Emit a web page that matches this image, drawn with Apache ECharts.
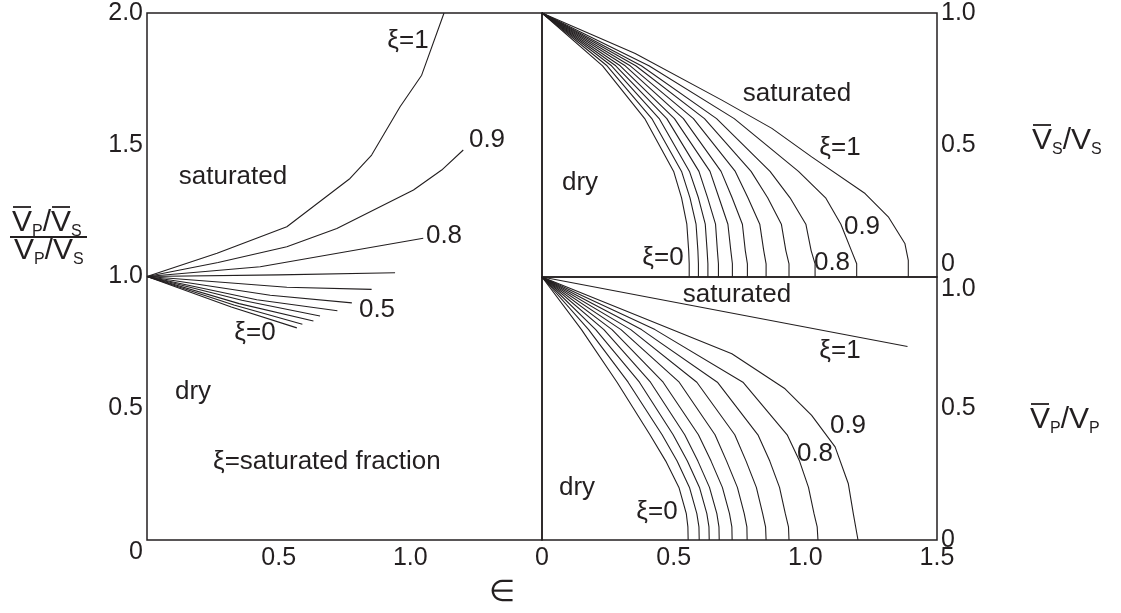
<!DOCTYPE html>
<html>
<head>
<meta charset="utf-8">
<script src="https://cdn.jsdelivr.net/npm/echarts@6/dist/echarts.min.js"></script>
<style>
  html, body { margin: 0; padding: 0; background: #ffffff; }
  #chart { width: 1121px; height: 613px; }
</style>
</head>
<body>
<div id="chart"></div>
<script>
// Saturated fraction ξ of each curve, from dry (0) to fully saturated (1)
const xiValues = [0, 0.1, 0.2, 0.3, 0.4, 0.5, 0.6, 0.7, 0.8, 0.9, 1.0];

// Left panel: (V̄p/V̄s)/(Vp/Vs) against crack density ε
const ratioXi00 = [[0, 1], [0.32, 0.884], [0.569, 0.805]];
const ratioXi01 = [[0, 1], [0.33, 0.892], [0.590, 0.819]];
const ratioXi02 = [[0, 1], [0.35, 0.897], [0.632, 0.831]];
const ratioXi03 = [[0, 1], [0.36, 0.910], [0.657, 0.850]];
const ratioXi04 = [[0, 1], [0.417, 0.912], [0.723, 0.870]];
const ratioXi05 = [[0, 1], [0.468, 0.929], [0.778, 0.900]];
const ratioXi06 = [[0, 1], [0.531, 0.959], [0.853, 0.951]];
const ratioXi07 = [[0, 1], [0.50, 1.006], [0.942, 1.014]];
const ratioXi08 = [[0, 1], [0.430, 1.037], [1.049, 1.145]];
const ratioXi09 = [[0, 1], [0.27, 1.053], [0.531, 1.113], [0.721, 1.182], [1.012, 1.328], [1.119, 1.404], [1.201, 1.480]];
const ratioXi10 = [[0, 1], [0.266, 1.088], [0.531, 1.189], [0.771, 1.372], [0.853, 1.461], [0.961, 1.644], [1.043, 1.764], [1.128, 2.0]];

// Upper right panel: V̄s/Vs against ε
const shearXi00 = [[0, 1], [0.23, 0.8], [0.39, 0.6], [0.50, 0.4], [0.53, 0.3], [0.55, 0.2], [0.557, 0.1], [0.559, 0.05], [0.559, 0]];
const shearXi01 = [[0, 1], [0.247, 0.8], [0.417, 0.6], [0.53, 0.4], [0.562, 0.3], [0.585, 0.2], [0.592, 0.1], [0.594, 0.05], [0.594, 0]];
const shearXi02 = [[0, 1], [0.264, 0.8], [0.445, 0.6], [0.56, 0.4], [0.594, 0.3], [0.62, 0.2], [0.627, 0.1], [0.63, 0.05], [0.63, 0]];
const shearXi03 = [[0, 1], [0.28, 0.8], [0.474, 0.6], [0.596, 0.4], [0.629, 0.3], [0.659, 0.2], [0.666, 0.1], [0.67, 0.05], [0.67, 0]];
const shearXi04 = [[0, 1], [0.297, 0.8], [0.503, 0.6], [0.638, 0.4], [0.672, 0.3], [0.706, 0.2], [0.717, 0.1], [0.723, 0.05], [0.723, 0]];
const shearXi05 = [[0, 1], [0.316, 0.8], [0.537, 0.6], [0.68, 0.4], [0.722, 0.3], [0.761, 0.2], [0.772, 0.1], [0.78, 0.05], [0.78, 0]];
const shearXi06 = [[0, 1], [0.335, 0.8], [0.575, 0.6], [0.734, 0.4], [0.782, 0.3], [0.827, 0.2], [0.842, 0.1], [0.851, 0.05], [0.851, 0]];
const shearXi07 = [[0, 1], [0.356, 0.8], [0.617, 0.6], [0.794, 0.4], [0.857, 0.3], [0.909, 0.2], [0.926, 0.1], [0.938, 0.05], [0.938, 0]];
const shearXi08 = [[0, 1], [0.377, 0.8], [0.663, 0.6], [0.866, 0.4], [0.942, 0.3], [1.002, 0.2], [1.022, 0.1], [1.037, 0.05], [1.037, 0]];
const shearXi09 = [[0, 1], [0.406, 0.8], [0.73, 0.6], [0.974, 0.4], [1.077, 0.3], [1.135, 0.2], [1.175, 0.1], [1.195, 0.05], [1.195, 0]];
const shearXi10 = [[0, 1], [0.354, 0.847], [0.683, 0.67], [0.873, 0.563], [1.024, 0.455], [1.227, 0.316], [1.315, 0.228], [1.378, 0.127], [1.391, 0.063], [1.391, 0]];

// Lower right panel: V̄p/Vp against ε
const compXi00 = [[0, 1], [0.15, 0.8], [0.285, 0.6], [0.41, 0.4], [0.47, 0.3], [0.52, 0.2], [0.548, 0.1], [0.554, 0.05], [0.555, 0]];
const compXi01 = [[0, 1], [0.177, 0.8], [0.327, 0.6], [0.456, 0.4], [0.513, 0.3], [0.56, 0.2], [0.588, 0.1], [0.596, 0.05], [0.597, 0]];
const compXi02 = [[0, 1], [0.204, 0.8], [0.37, 0.6], [0.498, 0.4], [0.552, 0.3], [0.598, 0.2], [0.626, 0.1], [0.634, 0.05], [0.635, 0]];
const compXi03 = [[0, 1], [0.235, 0.8], [0.412, 0.6], [0.542, 0.4], [0.592, 0.3], [0.636, 0.2], [0.664, 0.1], [0.672, 0.05], [0.673, 0]];
const compXi04 = [[0, 1], [0.266, 0.8], [0.46, 0.6], [0.594, 0.4], [0.642, 0.3], [0.685, 0.2], [0.712, 0.1], [0.721, 0.05], [0.722, 0]];
const compXi05 = [[0, 1], [0.3, 0.8], [0.521, 0.6], [0.657, 0.4], [0.701, 0.3], [0.742, 0.2], [0.768, 0.1], [0.778, 0.05], [0.779, 0]];
const compXi06 = [[0, 1], [0.337, 0.8], [0.588, 0.6], [0.732, 0.4], [0.775, 0.3], [0.814, 0.2], [0.838, 0.1], [0.849, 0.05], [0.851, 0]];
const compXi07 = [[0, 1], [0.378, 0.8], [0.666, 0.6], [0.82, 0.4], [0.865, 0.3], [0.902, 0.2], [0.924, 0.1], [0.936, 0.05], [0.938, 0]];
const compXi08 = [[0, 1], [0.429, 0.8], [0.763, 0.6], [0.931, 0.4], [0.978, 0.3], [1.012, 0.2], [1.033, 0.1], [1.045, 0.05], [1.048, 0]];
const compXi09 = [[0, 1], [0.721, 0.708], [0.923, 0.575], [1.024, 0.474], [1.113, 0.354], [1.163, 0.215], [1.182, 0.101], [1.2, 0]];
const compXi10 = [[0, 1], [1.388, 0.736]];

// Axis tick values
const epsTicks = [0, 0.5, 1.0, 1.5];
const ratioTicks = [0, 0.5, 1.0, 1.5, 2.0];
const velTicks = [0, 0.5, 1.0];

const ratioCurves = [ratioXi00, ratioXi01, ratioXi02, ratioXi03, ratioXi04, ratioXi05, ratioXi06, ratioXi07, ratioXi08, ratioXi09, ratioXi10];
const shearCurves = [shearXi00, shearXi01, shearXi02, shearXi03, shearXi04, shearXi05, shearXi06, shearXi07, shearXi08, shearXi09, shearXi10];
const compCurves  = [compXi00, compXi01, compXi02, compXi03, compXi04, compXi05, compXi06, compXi07, compXi08, compXi09, compXi10];

const INK = '#231f20';
const FONT = '"Liberation Sans", Arial, Helvetica, sans-serif';

const tickText = v => (v === 0 ? '0' : v.toFixed(1));

function curve(data, panel, xi) {
  return {
    type: 'line',
    name: 'ξ=' + xi,
    xAxisIndex: panel,
    yAxisIndex: panel,
    data: data,
    symbol: 'none',
    showSymbol: false,
    silent: true,
    lineStyle: { color: INK, width: 1.1 },
    z: 3
  };
}

const series = [];
ratioCurves.forEach((d, i) => series.push(curve(d, 0, xiValues[i])));
shearCurves.forEach((d, i) => series.push(curve(d, 1, xiValues[i])));
compCurves.forEach((d, i) => series.push(curve(d, 2, xiValues[i])));

const labelBase = { fontSize: 25, fontFamily: FONT, color: INK };

function xAxis(grid, labelFilter) {
  return {
    type: 'value', gridIndex: grid,
    min: epsTicks[0], max: epsTicks[epsTicks.length - 1], interval: 0.5,
    axisLine: { show: false }, axisTick: { show: false }, splitLine: { show: false },
    axisLabel: labelFilter
      ? Object.assign({ margin: 6, formatter: v => (labelFilter(v) ? tickText(v) : '') }, labelBase)
      : { show: false }
  };
}

function yAxis(grid, ticks, pos, extra) {
  return {
    type: 'value', gridIndex: grid, position: pos,
    min: ticks[0], max: ticks[ticks.length - 1], interval: 0.5,
    axisLine: { show: false }, axisTick: { show: false }, splitLine: { show: false },
    axisLabel: Object.assign({ margin: 4, formatter: tickText }, labelBase, extra)
  };
}

// Text pieces laid out left to right; sub = subscript, bar = overline
const measureCtx = document.createElement('canvas').getContext('2d');
function formula(pieces, left, yc) {
  const els = [];
  let x = left;
  pieces.forEach(p => {
    const size = p.sub ? 16 : 30;
    measureCtx.font = size + 'px ' + FONT;
    const w = measureCtx.measureText(p.t).width;
    els.push({
      type: 'text', x: x, y: p.sub ? yc + 9 : yc, silent: true,
      style: { text: p.t, fill: INK, fontSize: size, fontFamily: FONT,
               align: 'left', verticalAlign: 'middle', textAlign: 'left', textVerticalAlign: 'middle' }
    });
    if (p.bar) {
      els.push({ type: 'line', silent: true,
        shape: { x1: x + 1, y1: yc - 16, x2: x + w - 1, y2: yc - 16 },
        style: { stroke: INK, lineWidth: 1.8 } });
    }
    x += w;
  });
  return els;
}

function note(text, x, y, align) {
  return {
    type: 'text', x: x, y: y, silent: true,
    style: { text: text, fill: INK, fontSize: 26, fontFamily: FONT,
             align: align || 'center', verticalAlign: 'middle',
             textAlign: align || 'center', textVerticalAlign: 'middle' }
  };
}

const graphics = [
  // left panel
  note('ξ=1', 408, 41), note('0.9', 487, 140), note('0.8', 444, 236),
  note('saturated', 233, 177), note('0.5', 377, 310), note('ξ=0', 255, 333),
  note('dry', 193, 392), note('ξ=saturated fraction', 213, 462, 'left'),
  // upper right panel
  note('saturated', 797, 94), note('ξ=1', 840, 148), note('dry', 580, 183),
  note('0.9', 862, 227), note('0.8', 832, 263), note('ξ=0', 663, 258),
  // lower right panel
  note('saturated', 737, 295), note('ξ=1', 840, 351), note('0.9', 848, 426),
  note('0.8', 815, 454), note('dry', 577, 488), note('ξ=0', 657, 512),
  // crack density symbol under the axes
  { type: 'text', x: 502, y: 593, silent: true,
    style: { text: '∈', fill: INK, fontSize: 30, fontFamily: '"DejaVu Sans", sans-serif', fontWeight: 200,
             align: 'center', verticalAlign: 'middle', textAlign: 'center', textVerticalAlign: 'middle' } },
  // fraction line of the left axis title
  { type: 'line', silent: true, shape: { x1: 10, y1: 237, x2: 87, y2: 237 }, style: { stroke: INK, lineWidth: 1.8 } }
]
  .concat(formula([{ t: 'V', bar: true }, { t: 'P', sub: true }, { t: '/' }, { t: 'V', bar: true }, { t: 'S', sub: true }], 12, 223))
  .concat(formula([{ t: 'V' }, { t: 'P', sub: true }, { t: '/' }, { t: 'V' }, { t: 'S', sub: true }], 14, 251))
  .concat(formula([{ t: 'V', bar: true }, { t: 'S', sub: true }, { t: '/' }, { t: 'V' }, { t: 'S', sub: true }], 1032, 141))
  .concat(formula([{ t: 'V', bar: true }, { t: 'P', sub: true }, { t: '/' }, { t: 'V' }, { t: 'P', sub: true }], 1030, 420));

const gridStyle = { show: true, borderColor: INK, borderWidth: 1.5, backgroundColor: 'transparent' };

const option = {
  animation: false,
  backgroundColor: '#ffffff',
  grid: [
    Object.assign({ left: 147, top: 13, width: 395, height: 527 }, gridStyle),
    Object.assign({ left: 542, top: 13, width: 395, height: 264 }, gridStyle),
    Object.assign({ left: 542, top: 277, width: 395, height: 263 }, gridStyle)
  ],
  xAxis: [
    xAxis(0, v => v > 0 && v < 1.5),
    xAxis(1, null),
    xAxis(2, () => true)
  ],
  yAxis: [
    yAxis(0, ratioTicks, 'left', { verticalAlignMinLabel: 'top' }),
    yAxis(1, velTicks, 'right', { verticalAlignMinLabel: 'bottom' }),
    yAxis(2, velTicks, 'right', { verticalAlignMaxLabel: 'top' })
  ],
  series: series,
  graphic: { elements: graphics }
};

const chart = echarts.init(document.getElementById('chart'), null, { renderer: 'canvas' });
chart.setOption(option);
</script>
</body>
</html>
